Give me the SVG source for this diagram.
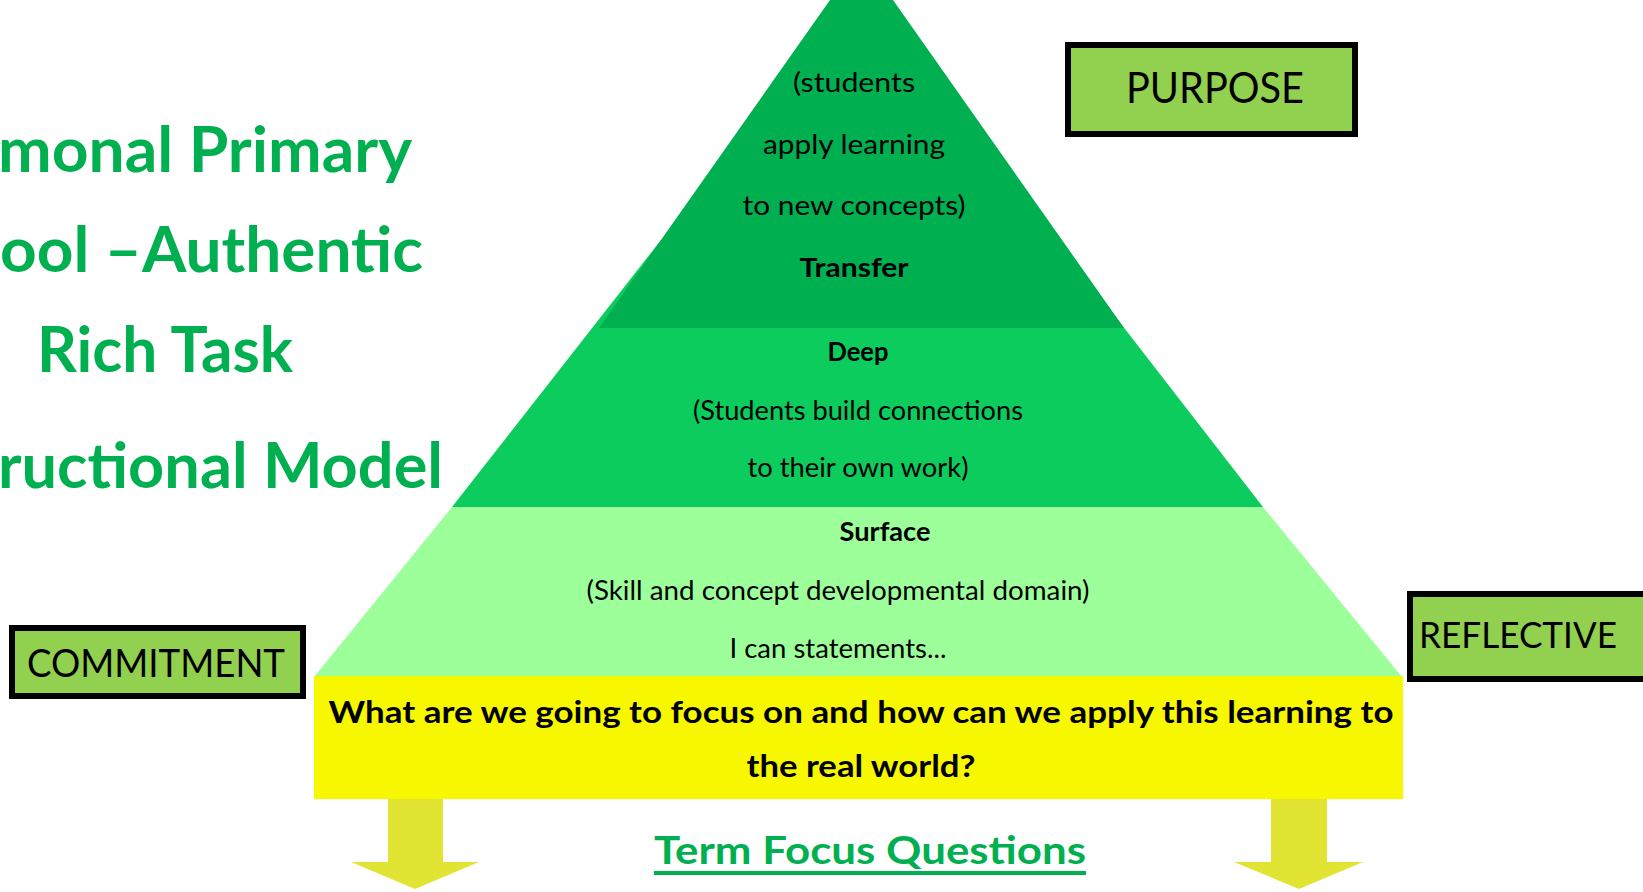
<svg xmlns="http://www.w3.org/2000/svg" width="1643" height="892" viewBox="0 0 1643 892">
  <style>
    .body { font-family: Lato, "Noto Sans", "DejaVu Sans", sans-serif; fill: #000; }
    .c { text-anchor: middle; }
    .b { font-weight: bold; }
    .band-text { font-size: 27px; }
    .title { font-family: Lato, "Noto Sans", "DejaVu Sans", sans-serif; font-weight: bold; font-size: 63px; fill: #00B050; }
    .label-box { fill: #92D050; stroke: #000; stroke-width: 6; }
    .label { font-family: Lato, "Noto Sans", "DejaVu Sans", sans-serif; fill: #000; }
    .arrow { fill: #E2E434; }
  </style>

  <rect width="1643" height="892" fill="#FFFFFF"/>

  <!-- title, partly running off the left edge -->
  <g id="title">
    <text class="title" x="-2" y="172" textLength="414" lengthAdjust="spacingAndGlyphs">monal Primary</text>
    <text class="title" x="0" y="272" textLength="423" lengthAdjust="spacingAndGlyphs">ool –Authentic</text>
    <text class="title" x="37" y="372" textLength="256" lengthAdjust="spacingAndGlyphs">Rich Task</text>
    <text class="title" x="-2" y="488" textLength="445" lengthAdjust="spacingAndGlyphs">ructional Model</text>
  </g>

  <!-- pyramid: surface (bottom), deep (middle), transfer (top) -->
  <g id="surface">
    <polygon points="452,507 1263,507 1402,677 314,677" fill="#9CFF9A"/>
    <text class="body band-text c b" x="885" y="541" textLength="91" lengthAdjust="spacingAndGlyphs">Surface</text>
    <text class="body band-text c" x="838" y="600" textLength="503" lengthAdjust="spacingAndGlyphs">(Skill and concept developmental domain)</text>
    <text class="body band-text c" x="838" y="658" textLength="217" lengthAdjust="spacingAndGlyphs">I can statements...</text>
  </g>

  <g id="deep">
    <polygon points="661,240 1056,240 1263,507 452,507" fill="#0BCC5C"/>
    <text class="body band-text c b" x="858" y="361" textLength="61" lengthAdjust="spacingAndGlyphs">Deep</text>
    <text class="body band-text c" x="858" y="420" textLength="330" lengthAdjust="spacingAndGlyphs">(Students build connections</text>
    <text class="body band-text c" x="858" y="477" textLength="221" lengthAdjust="spacingAndGlyphs">to their own work)</text>
  </g>

  <g id="transfer">
    <polygon points="830,0 893,0 1124,328 599,328" fill="#00B050"/>
    <text class="body band-text c" x="854" y="92" textLength="122" lengthAdjust="spacingAndGlyphs">(students</text>
    <text class="body band-text c" x="854" y="154" textLength="182" lengthAdjust="spacingAndGlyphs">apply learning</text>
    <text class="body band-text c" x="854" y="215" textLength="223" lengthAdjust="spacingAndGlyphs">to new concepts)</text>
    <text class="body band-text c b" x="854" y="277" textLength="109" lengthAdjust="spacingAndGlyphs">Transfer</text>
  </g>

  <!-- base question bar -->
  <g id="question">
    <rect x="314" y="676" width="1089" height="123" fill="#F7F700"/>
    <text class="body c b" x="861" y="723" font-size="30" textLength="1065" lengthAdjust="spacingAndGlyphs">What are we going to focus on and how can we apply this learning to</text>
    <text class="body c b" x="861" y="777" font-size="30" textLength="229" lengthAdjust="spacingAndGlyphs">the real world?</text>
  </g>

  <!-- downward arrows under the bar -->
  <g id="connectors">
    <polygon class="arrow" points="388,799 443,799 443,862 479,862 415,889 351,862 388,862"/>
    <polygon class="arrow" points="1271,799 1327,799 1327,862 1363,862 1299,889 1234,862 1271,862"/>
  </g>

  <g id="term-focus">
    <text x="870" y="864" text-anchor="middle" font-family="Lato, 'Noto Sans', 'DejaVu Sans', sans-serif" font-weight="bold" font-size="39" fill="#00B050" textLength="432" lengthAdjust="spacingAndGlyphs">Term Focus Questions</text>
    <rect x="654" y="871" width="432" height="4" fill="#00B050"/>
  </g>

  <!-- side labels -->
  <g id="purpose">
    <rect class="label-box" x="1068" y="45" width="287" height="89"/>
    <text class="label" x="1215" y="103" text-anchor="middle" font-size="42" textLength="178" lengthAdjust="spacingAndGlyphs">PURPOSE</text>
  </g>

  <g id="commitment">
    <rect class="label-box" x="12" y="628" width="291" height="68"/>
    <text class="label" x="27" y="677" font-size="38" textLength="258" lengthAdjust="spacingAndGlyphs">COMMITMENT</text>
  </g>

  <g id="reflective">
    <rect class="label-box" x="1410" y="594" width="260" height="85"/>
    <text class="label" x="1419" y="648" font-size="36" textLength="198" lengthAdjust="spacingAndGlyphs">REFLECTIVE</text>
  </g>
</svg>
